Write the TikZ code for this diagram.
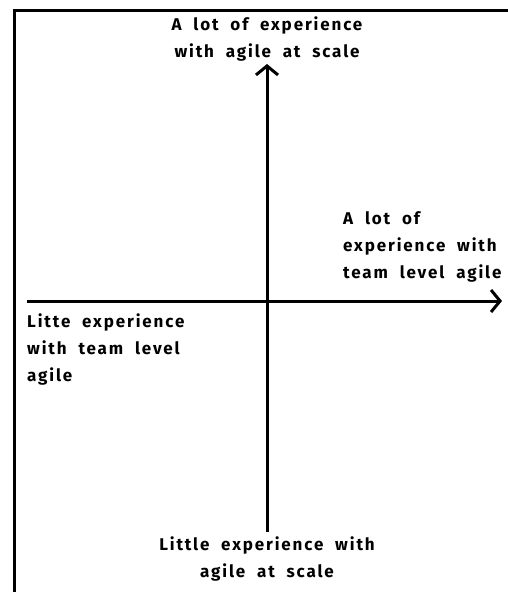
\documentclass[tikz,border=0pt]{standalone}
\usepackage{fontspec}
\setmainfont{Fira Sans}[LetterSpace=11, WordSpace=2]
\usetikzlibrary{arrows.meta, positioning}

\begin{document}
\begin{tikzpicture}[
    x=1pt, y=-1pt,
    axislabel/.style={font=\fontsize{17}{27}\selectfont\bfseries, inner sep=0pt, text=black},
    axis/.style={-{Straight Barb[length=9pt, width=22pt]}, line width=3pt, black}
]
\useasboundingbox (0,0) rectangle (508,592);
\clip (0,0) rectangle (508,592);

% Frame
\draw[line width=3pt] (14.5,10.5) rectangle (530,620);

% Axis ends
\coordinate (hleft) at (27,301);
\coordinate (hright) at (502,301);
\coordinate (vbot) at (267,532);
\coordinate (vtop) at (267,64);

% Labels
\node[axislabel, align=center] (scalehigh) at (267,39) {A lot of experience\\with agile at scale};
\node[axislabel, align=center] (scalelow) at (267,559) {Little experience with\\agile at scale};
\node[axislabel, align=left, anchor=west] (teamhigh) at (343,247) {A lot of\\experience with\\team level agile};
\node[axislabel, align=left, anchor=west] (teamlow) at (27,349) {Litte experience\\with team level\\agile};

% Axes
\draw[axis] (hleft) -- (hright);
\draw[axis] (vbot) -- (vtop);

\end{tikzpicture}
\end{document}
